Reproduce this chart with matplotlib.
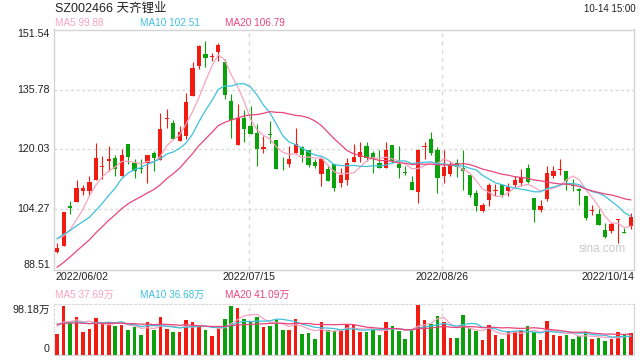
import matplotlib
matplotlib.use('Agg')
import matplotlib.pyplot as plt
import matplotlib.transforms as mtransforms
import pandas as pd

plt.rcParams['font.family'] = ['Liberation Sans', 'Noto Sans CJK SC']

# Daily candles 2022/06/02 .. 2022/10/14
open_ = [93.09, 94.66, 105.16, 106.2, 109.1, 109.1, 112.0, 115.4, 117.0, 117.7,
         113.0, 121.4, 116.5, 115.0, 116.5, 119.2, 117.2, 128.0, 127.0, 122.2,
         123.7, 134.0, 141.9, 145.0, 144.3, 145.6, 142.96, 132.7, 121.3, 128.3,
         126.2, 124.4, 120.2, 123.9, 122.4, 117.0, 116.1, 119.0, 120.7, 120.0,
         116.8, 113.65, 114.8, 116.1, 111.1, 112.0, 116.7, 118.1, 120.9, 119.0,
         116.4, 115.2, 121.1, 116.1, 113.9, 111.5, 108.8, 120.7, 122.7, 120.0,
         113.0, 113.5, 116.5, 115.2, 113.3, 108.5, 104.0, 106.7, 109.2, 110.7,
         109.1, 110.7, 111.1, 115.05, 107.35, 104.1, 106.9, 113.0, 114.6, 114.35,
         110.5, 109.7, 107.8, 103.8, 102.97, 99.0, 98.6, 101.6, 98.2, 99.9]
close = [94.05, 103.59, 104.73, 109.8, 109.8, 111.4, 117.7, 115.6, 117.4, 115.0,
         118.7, 118.0, 114.3, 114.9, 118.7, 117.7, 125.5, 128.2, 122.8, 124.7,
         132.6, 141.3, 147.2, 144.1, 144.4, 147.6, 134.3, 127.9, 128.3, 125.5,
         124.0, 120.2, 120.65, 123.8, 114.96, 116.9, 117.4, 121.35, 118.7, 115.9,
         115.7, 117.4, 111.7, 110.0, 113.2, 116.5, 118.0, 119.3, 117.9, 117.9,
         115.2, 119.8, 117.0, 115.05, 113.8, 109.4, 119.8, 120.8, 119.2, 112.5,
         115.4, 116.1, 115.5, 114.35, 108.05, 105.2, 105.4, 110.7, 109.3, 108.05,
         110.2, 111.9, 112.8, 111.5, 104.1, 105.3, 113.9, 114.5, 114.7, 111.76,
         110.4, 109.1, 102.0, 103.9, 100.3, 97.0, 100.35, 101.7, 98.1, 102.25]
high = [95.54, 103.7, 106.48, 111.9, 110.7, 113.0, 121.7, 118.3, 120.9, 118.7,
        120.2, 121.6, 117.4, 117.4, 118.7, 119.6, 129.7, 130.7, 127.9, 126.2,
        134.9, 143.05, 147.6, 148.65, 145.4, 148.0, 143.8, 134.5, 132.1, 130.3,
        131.4, 126.6, 123.7, 127.4, 122.4, 118.0, 120.9, 125.7, 120.9, 120.0,
        117.4, 118.1, 115.7, 116.1, 115.2, 117.9, 121.35, 122.0, 121.95, 119.6,
        119.85, 121.95, 121.1, 120.9, 115.8, 113.0, 120.2, 122.05, 124.6, 120.65,
        120.0, 117.0, 117.6, 120.0, 113.3, 109.4, 106.0, 111.3, 110.85, 110.7,
        111.3, 113.0, 114.8, 116.1, 107.35, 106.7, 115.8, 115.7, 117.4, 114.5,
        112.3, 109.8, 107.8, 105.4, 104.3, 100.8, 100.97, 101.8, 99.5, 103.4]
low = [92.74, 94.66, 103.15, 106.2, 108.2, 107.8, 112.0, 112.2, 114.35, 113.0,
       113.0, 116.1, 112.6, 113.9, 111.3, 114.35, 117.2, 125.7, 122.7, 122.2,
       122.7, 134.0, 141.2, 141.65, 143.2, 143.2, 133.2, 123.1, 121.1, 122.0,
       124.0, 115.7, 119.0, 121.8, 114.96, 114.6, 115.5, 119.0, 116.7, 115.5,
       115.2, 110.4, 111.7, 109.1, 110.2, 110.7, 116.7, 116.7, 116.97, 113.9,
       115.2, 115.2, 116.5, 112.6, 113.2, 109.4, 105.9, 117.4, 118.5, 108.5,
       111.3, 113.0, 112.8, 109.5, 107.5, 103.85, 103.6, 105.3, 107.9, 107.6,
       107.8, 110.0, 110.4, 111.3, 100.97, 103.6, 106.5, 112.6, 113.3, 109.5,
       109.2, 105.4, 101.6, 102.8, 100.1, 96.85, 98.2, 95.5, 98.0, 99.2]
# volume in 万
volume = [41.8, 97.0, 65.0, 75.0, 44.4, 51.7, 73.6, 63.0, 64.3, 57.7,
          59.7, 49.8, 54.4, 39.8, 64.3, 49.8, 75.0, 51.1, 45.1, 44.4,
          69.7, 64.3, 56.4, 49.8, 36.5, 53.1, 71.6, 96.2, 91.5, 71.6,
          64.3, 75.0, 54.4, 56.4, 69.7, 49.8, 49.8, 71.6, 41.8, 43.8,
          31.8, 64.3, 49.8, 46.4, 46.4, 59.7, 59.7, 44.4, 44.4, 49.8,
          39.8, 64.3, 57.7, 46.4, 31.8, 49.8, 98.18, 69.7, 61.7, 75.6,
          64.3, 33.8, 33.8, 77.6, 53.1, 47.8, 28.5, 59.7, 39.8, 31.8,
          47.8, 46.4, 46.4, 57.2, 46.0, 28.5, 66.7, 39.8, 36.5, 39.8,
          31.15, 36.5, 45.1, 31.8, 33.8, 27.0, 31.8, 45.0, 40.65, 44.0]

# sessions before 06/02, only needed so the moving averages start at the left edge
pre_close = [78, 76, 79, 80, 82, 81, 83, 84, 86, 87,
             92, 95, 97, 99, 100, 100.0, 96.3, 96.8, 95.8]
pre_volume = [55, 62, 70, 58, 66, 49, 72, 60, 57, 64,
              68, 53, 61, 59, 74, 52, 63, 58, 66]

price_ticks = [88.51, 104.27, 120.03, 135.78, 151.54]
date_pos = [0, 30, 60, 89]
date_labels = ['2022/06/02', '2022/07/15', '2022/08/26', '2022/10/14']
vol_max = 98.18

RED = '#f21b12'
GREEN = '#0ba10b'
MA_COLORS = {5: '#f7a3bf', 10: '#3ec1dd', 20: '#e8467c'}
GRID = '#d9d9d9'
FRAME = '#d4d4d4'

n = len(close)
x = list(range(n))
up = [c >= o for o, c in zip(open_, close)]
colors = [RED if u else GREEN for u in up]

full_close = pd.Series(pre_close + close)
full_vol = pd.Series(pre_volume + volume)
ma_price = {k: full_close.rolling(k).mean().iloc[-n:].values for k in MA_COLORS}
ma_vol = {k: full_vol.rolling(k).mean().iloc[-n:].values for k in MA_COLORS}

W, H = 640, 360


def box(l, t, r, b):
    return [l / W, 1 - b / H, (r - l) / W, (b - t) / H]


def ftext(px, py, s, **kw):
    fig.text(px / W, 1 - py / H, s, **kw)


fig = plt.figure(figsize=(6.4, 3.6), dpi=100)
ax = fig.add_axes(box(54, 29.5, 634, 269.5))
axv = fig.add_axes(box(54, 304, 634, 355))

# ---- price panel ----
ax.set_xlim(-0.5, n - 0.5)
ax.set_ylim(price_ticks[0], price_ticks[-1])
for p in price_ticks[1:-1]:
    ax.axhline(p, color=GRID, lw=1, ls=(0, (2, 2)), zorder=0)
for d in date_pos[1:-1]:
    ax.axvline(d - 0.3, color=GRID, lw=1, ls=(0, (3, 3)), zorder=0)
    axv.axvline(d - 0.3, color=GRID, lw=1, ls=(0, (2, 2)), zorder=0)

ax.vlines(x, low, high, colors=colors, lw=0.8, zorder=2)
bottoms = [min(o, c) for o, c in zip(open_, close)]
heights = [max(abs(c - o), 0.22) for o, c in zip(open_, close)]
ax.bar(x, heights, bottom=bottoms, width=0.66, color=colors, lw=0, zorder=3)

for k, col in MA_COLORS.items():
    ax.plot(x, ma_price[k], color=col, lw=0.9, zorder=4)

ax.set_xticks([])
ax.set_yticks([])
for s in ax.spines.values():
    s.set_color(FRAME)
    s.set_linewidth(1)

trans = mtransforms.blended_transform_factory(fig.transFigure, ax.transData)
for i, p in enumerate(price_ticks):
    va = 'bottom' if i == 0 else ('top' if i == len(price_ticks) - 1 else 'center')
    ax.text(50 / W, p, f'{p:.2f}', transform=trans, ha='right', va=va,
            fontsize=7.7, color='#222222')

ftext(602, 249, 'sina.com', ha='center', va='center', fontsize=8.5, color='#c9c9c9')

# ---- volume panel ----
axv.set_xlim(-0.5, n - 0.5)
axv.set_ylim(0, vol_max * 51 / 50)
axv.bar(x, volume, width=0.55, color=colors, lw=0, zorder=2)
for k, col in MA_COLORS.items():
    axv.plot(x, ma_vol[k], color=col, lw=0.9, zorder=3)
axv.set_xticks([])
axv.set_yticks([])
axv.spines['right'].set_color(FRAME)
axv.spines['bottom'].set_color(FRAME)
for side in ('top', 'left'):
    axv.spines[side].set_color(GRID)
    axv.spines[side].set_linestyle((0, (2, 2)))

ftext(50, 305, f'{vol_max:.2f}万', ha='right', va='top', fontsize=7.7, color='#222222')
ftext(50, 354, '0', ha='right', va='bottom', fontsize=7.7, color='#222222')

# ---- dates ----
for d, lab in zip(date_pos, date_labels):
    px = 57.3 + 6.44 * (d - 0.3)
    ha = 'center'
    if d == date_pos[0]:
        px, ha = 55, 'left'
    elif d == date_pos[-1]:
        px, ha = 635, 'right'
    ftext(px, 277, lab, ha=ha, va='center', fontsize=7.7, color='#222222')

# ---- headers ----
ftext(55, 9, 'SZ002466 天齐锂业', ha='left', va='center', fontsize=9, color='#222222')
ftext(636, 9, '10-14 15:00', ha='right', va='center', fontsize=7, color='#222222')
for px, k in zip([55, 140, 225], MA_COLORS):
    ftext(px, 23, f'MA{k} {ma_price[k][-1]:.2f}', ha='left', va='center',
          fontsize=7.2, color=MA_COLORS[k])
    ftext(px, 295, f'MA{k} {ma_vol[k][-1]:.2f}万', ha='left', va='center',
          fontsize=7.2, color=MA_COLORS[k])

fig.savefig('out.png', dpi=100)
